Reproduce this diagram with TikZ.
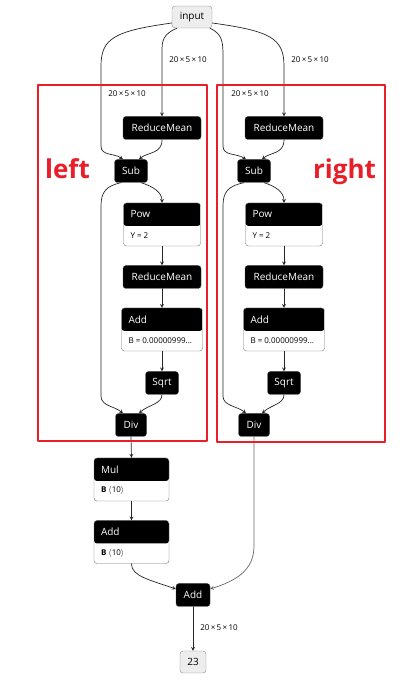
\documentclass[tikz,border=0pt]{standalone}
\usepackage{fontspec}
\setmainfont{Open Sans}
\usetikzlibrary{arrows}
\definecolor{boxred}{RGB}{232,30,40}
\tikzset{
op/.style={draw=black!70,fill=black,text=white,rounded corners=3pt,minimum height=23pt,inner xsep=3pt,font=\fontsize{10}{12}\selectfont},
io/.style={draw=black!45,fill=black!7,rounded corners=3pt,minimum height=22pt,inner xsep=3pt,font=\fontsize{10}{12}\selectfont},
opattr/.style={draw=black!55,fill=white,rounded corners=3pt,minimum height=43pt,path picture={\fill[black](path picture bounding box.north west) rectangle ([yshift=-23pt]path picture bounding box.north east);}},
ttl/.style={anchor=west,text=white,inner sep=0pt,font=\fontsize{10}{12}\selectfont},
att/.style={anchor=west,inner sep=0pt,font=\fontsize{8}{10}\selectfont},
dim/.style={inner sep=0pt,font=\fontsize{8}{10}\selectfont},
side/.style={text=boxred,anchor=base,font=\fontsize{26}{30}\selectfont\bfseries},
edge/.style={->,draw=black!85,line width=0.7pt}
}
\begin{document}
\begin{tikzpicture}[x=1pt,y=1pt,>=stealth,line cap=round,line join=round]
\useasboundingbox (0,0) rectangle (412,686);
\path(192,669)node[io,minimum width=40pt](inp){input}
(162,558)node[op,minimum width=78pt](lrm){ReduceMean} (131,515)node[op,minimum width=33pt](lsub){Sub}
(162,461.5)node[opattr,minimum width=77pt](lpow){}
(162,409)node[op,minimum width=78pt](lrm2){ReduceMean}
(162,356.5)node[opattr,minimum width=81pt](ladd){}
(162,303)node[op,minimum width=33pt](lsqrt){Sqrt} (131,261)node[op,minimum width=31pt](ldiv){Div}
(284,558)node[op,minimum width=78pt](rrm){ReduceMean} (254,515)node[op,minimum width=33pt](rsub){Sub}
(284,461.5)node[opattr,minimum width=77pt](rpow){}
(284,409)node[op,minimum width=78pt](rrm2){ReduceMean}
(284,356.5)node[opattr,minimum width=81pt](radd){}
(284,303)node[op,minimum width=33pt](rsqrt){Sqrt} (254,261)node[op,minimum width=31pt](rdiv){Div}
(131.5,206.5)node[opattr,minimum width=75pt](mul){}
(131.5,144)node[opattr,minimum width=75pt](badd){}
(193,91)node[op,minimum width=34pt](fadd){Add}
(193,24)node[io,minimum width=26pt](out){23}
;
% titles and attributes
\path(lpow.north west)++(7,-11.5)node[ttl](lpowt){Pow}++(0,-21.5)node[att](lpowa){Y = 2}
(ladd.north west)++(7,-11.5)node[ttl](laddt){Add}++(0,-21.5)node[att](ladda){B = 0.00000999...}
(rpow.north west)++(7,-11.5)node[ttl](rpowt){Pow}++(0,-21.5)node[att](rpowa){Y = 2}
(radd.north west)++(7,-11.5)node[ttl](raddt){Add}++(0,-21.5)node[att](radda){B = 0.00000999...}
(mul.north west)++(7,-11.5)node[ttl](mult){Mul}++(0,-21.5)node[att](mula){\textbf{B} $\langle$10$\rangle$}
(badd.north west)++(7,-11.5)node[ttl](baddt){Add}++(0,-21.5)node[att](badda){\textbf{B} $\langle$10$\rangle$}
;
\path(188,626)node[dim](d1){20\,×\,5\,×\,10} (127,592)node[dim](d2){20\,×\,5\,×\,10}
(310,626)node[dim](d3){20\,×\,5\,×\,10} (250,592)node[dim](d4){20\,×\,5\,×\,10}
(219,58)node[dim](d5){20\,×\,5\,×\,10}
(67.5,507)node[side](lleft){left} (344.5,507)node[side](lright){right};
\draw[edge]([yshift=-6]inp.west) .. controls (115,655) and (101,648) .. (101,620) -- (101,540) .. controls (101,530) and (114,533) .. ([xshift=-8]lsub.north);
\draw[edge]([xshift=-15]inp.south) .. controls (163,652) and (162,645) .. (162,635) -- (lrm.north);
\draw[edge]([xshift=18]inp.south) .. controls (222,652) and (223,645) .. (223,630) -- (223,540) .. controls (223,530) and (236,533) .. ([xshift=-8]rsub.north);
\draw[edge]([yshift=-6]inp.east) .. controls (270,655) and (284,648) .. (284,620) -- (rrm.north);
\draw[edge](lrm.south) .. controls (162,532) and (148,534) .. ([xshift=8]lsub.north);
\draw[edge](rrm.south) .. controls (284,532) and (271,534) .. ([xshift=8]rsub.north);
\draw[edge]([xshift=10]lsub.south) .. controls (152,500) and (162,494) .. (lpow.north);
\draw[edge]([xshift=10]rsub.south) .. controls (275,500) and (284,494) .. (rpow.north);
\draw[edge]([xshift=-10]lsub.south) .. controls (106,500) and (101,494) .. (101,480) -- (101,290) .. controls (101,280) and (114,280) .. ([xshift=-8]ldiv.north);
\draw[edge]([xshift=-10]rsub.south) .. controls (228,500) and (223,494) .. (223,480) -- (223,290) .. controls (223,280) and (237,280) .. ([xshift=-8]rdiv.north);
\draw[edge](lpow.south) -- (lrm2.north); \draw[edge](lrm2.south) -- (ladd.north); \draw[edge](ladd.south) -- (lsqrt.north);
\draw[edge](rpow.south) -- (rrm2.north); \draw[edge](rrm2.south) -- (radd.north); \draw[edge](radd.south) -- (rsqrt.north);
\draw[edge](lsqrt.south) .. controls (162,282) and (148,281) .. ([xshift=8]ldiv.north);
\draw[edge](rsqrt.south) .. controls (284,282) and (271,281) .. ([xshift=8]rdiv.north);
\draw[edge](ldiv.south) -- (mul.north); \draw[edge](mul.south) -- (badd.north);
\draw[edge](badd.south) .. controls (131,110) and (150,106) .. ([yshift=6]fadd.west);
\draw[edge,draw=black!60](rdiv.south) -- (254,140) .. controls (254,115) and (235,105) .. ([yshift=6]fadd.east);
\draw[edge](fadd.south) -- (out.north);
% the two marked halves
\draw[boxred,line width=2pt] (38,244.5) rectangle (207,601) (217,243.5) rectangle (385,601);
\end{tikzpicture}
\end{document}
